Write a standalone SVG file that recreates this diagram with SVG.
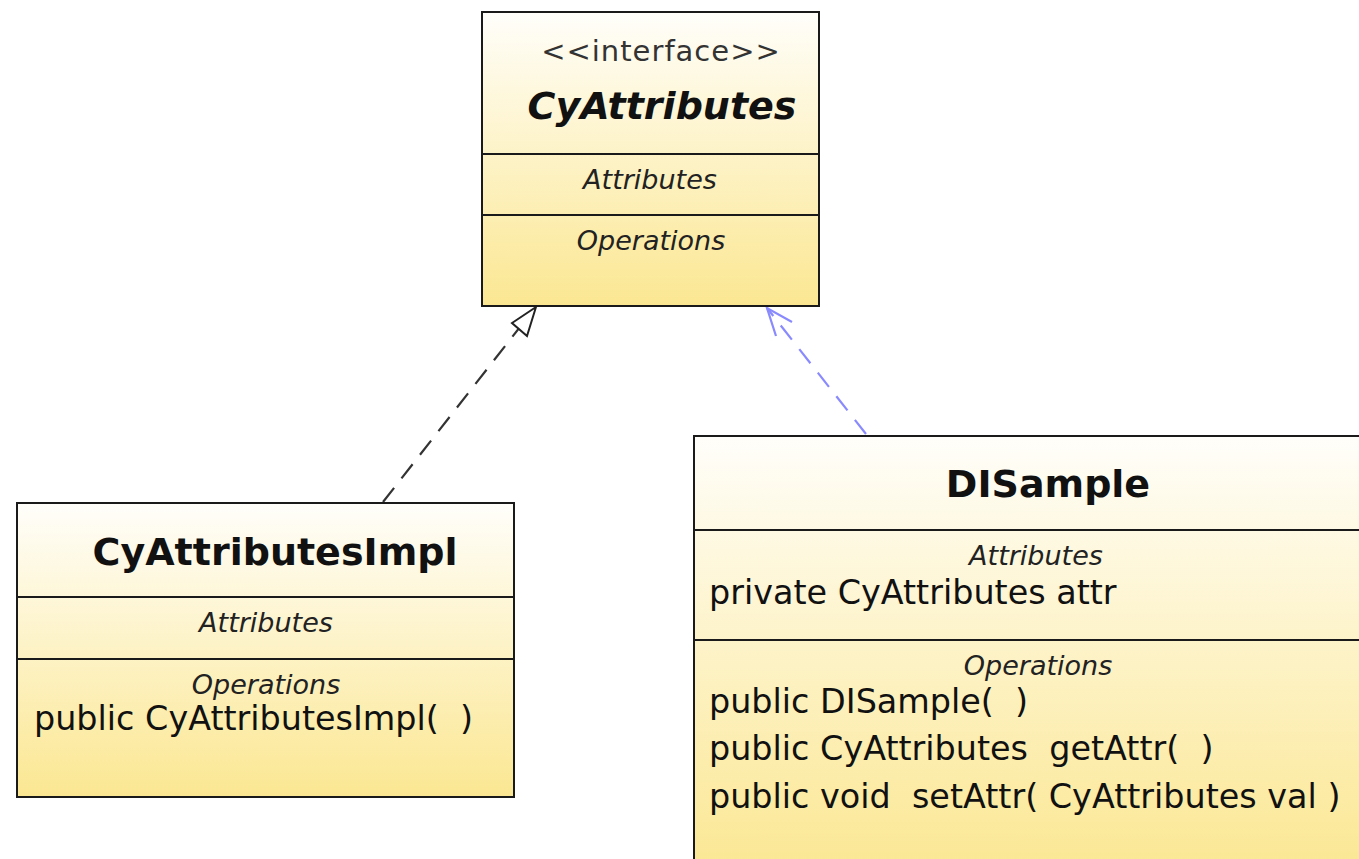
<svg xmlns="http://www.w3.org/2000/svg" width="1359" height="859" viewBox="0 0 1359 859">
<defs>
<linearGradient id="fill" x1="0" y1="0" x2="0" y2="1">
<stop offset="0" stop-color="#fffefa"/>
<stop offset="1" stop-color="#fbe792"/>
</linearGradient>
<style>
.box{fill:url(#fill);stroke:#1a1a1a;stroke-width:2}
.div{stroke:#1a1a1a;stroke-width:2}
text{font-family:"DejaVu Sans","Liberation Sans",sans-serif;fill:#111;white-space:pre}
.title{font-weight:bold;font-size:38px}
.stereo{font-size:29px;fill:#333;letter-spacing:1px}
.sec{font-style:italic;font-size:27px;fill:#222}
.body{font-size:33.4px;fill:#111}
.real{fill:none;stroke:#333;stroke-width:2.2;stroke-dasharray:18 12}
.dep{fill:none;stroke:#8a8aff;stroke-width:2.2;stroke-dasharray:18 12}
</style>
</defs>
<rect width="1359" height="859" fill="#fff"/>
<g id="connectors">
<path class="real" d="M383,502 L527,318"/>
<polygon points="536,307 512,323 527,336" fill="#fff" stroke="#222" stroke-width="2"/>
<path class="dep" d="M866,434 L767,308"/>
<path d="M792,322 L767,308 L776,336" fill="none" stroke="#8a8aff" stroke-width="2.2"/>
</g>
<g id="CyAttributes">
<rect class="box" x="482" y="12" width="337" height="294"/>
<line class="div" x1="482" y1="154" x2="819" y2="154"/>
<line class="div" x1="482" y1="215" x2="819" y2="215"/>
<text class="stereo" x="661" y="61" text-anchor="middle">&lt;&lt;interface&gt;&gt;</text>
<text class="title" x="662" y="119" text-anchor="middle" font-style="italic">CyAttributes</text>
<text class="sec" x="650" y="189" text-anchor="middle">Attributes</text>
<text class="sec" x="651" y="250" text-anchor="middle">Operations</text>
</g>
<g id="CyAttributesImpl">
<rect class="box" x="17" y="503" width="497" height="294"/>
<line class="div" x1="17" y1="597" x2="514" y2="597"/>
<line class="div" x1="17" y1="659" x2="514" y2="659"/>
<text class="title" x="275" y="565" text-anchor="middle">CyAttributesImpl</text>
<text class="sec" x="266" y="632" text-anchor="middle">Attributes</text>
<text class="sec" x="266" y="694" text-anchor="middle">Operations</text>
<text class="body" x="34" y="730" xml:space="preserve">public CyAttributesImpl(  )</text>
</g>
<g id="DISample">
<rect class="box" x="694" y="436" width="690" height="440"/>
<line class="div" x1="694" y1="530" x2="1384" y2="530"/>
<line class="div" x1="694" y1="640" x2="1384" y2="640"/>
<text class="title" x="1048" y="497" text-anchor="middle">DISample</text>
<text class="sec" x="1036" y="565" text-anchor="middle">Attributes</text>
<text class="body" x="709" y="604">private CyAttributes attr</text>
<text class="sec" x="1038" y="675" text-anchor="middle">Operations</text>
<text class="body" x="709" y="713" xml:space="preserve">public DISample(  )</text>
<text class="body" x="709" y="760" xml:space="preserve">public CyAttributes  getAttr(  )</text>
<text class="body" x="709" y="808" xml:space="preserve">public void  setAttr( CyAttributes val )</text>
</g>
</svg>
